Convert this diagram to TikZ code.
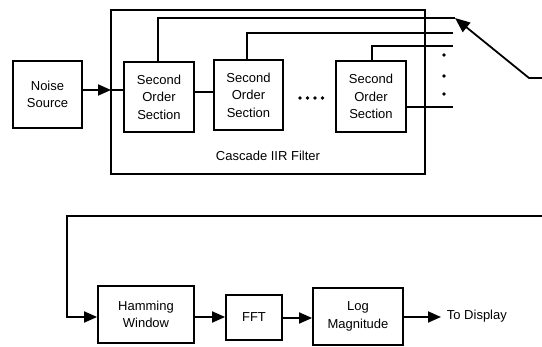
\documentclass[tikz,border=0pt]{standalone}
\usepackage{fontspec}
\setmainfont{Liberation Sans}
\usetikzlibrary{arrows.meta}
\begin{document}
\begin{tikzpicture}[x=1pt,y=-1pt,
  line width=1.8pt,
  font=\fontsize{13}{17.5}\selectfont,
  blk/.style={draw,rectangle,inner sep=0pt,align=center},
  arr/.style={-{Triangle[length=13pt,width=11pt]}},
  bigarr/.style={-{Triangle[length=15pt,width=12pt]}},
  tapdot/.style={circle,fill,inner sep=0pt,minimum size=3.6pt}]
\useasboundingbox (0,0) rectangle (542,347);

% filter stage
\node[blk,minimum width=69pt,minimum height=67pt] (noise) at (47.5,94.5) {Noise\\Source};
\node[draw,rectangle,minimum width=314pt,minimum height=164pt,inner sep=0pt] (casc) at (268,92) {};
\node (casclabel) at (268,156) {Cascade IIR Filter};
\node[blk,minimum width=70pt,minimum height=70pt] (sos1) at (159,97) {Second\\Order\\Section};
\node[blk,minimum width=69pt,minimum height=70pt] (sos2) at (248.5,95) {Second\\Order\\Section};
\node[blk,minimum width=70pt,minimum height=71pt] (sos3) at (371,96.5) {Second\\Order\\Section};
\foreach \i/\x in {1/300,2/307.5,3/315,4/322.5}
  \node[tapdot] (h\i) at (\x,98) {};

% input path
\coordinate (in1) at (111,90);
\draw[arr] (noise.east |- in1) -- (in1);
\draw (in1) -- (sos1.west |- in1);
\coordinate (mid12) at (204,92);
\draw (sos1.east |- mid12) -- (sos2.west |- mid12);

% section taps
\coordinate (t1) at (455,18);
\coordinate (t2) at (453,33);
\coordinate (t3) at (453,46);
\coordinate (t4) at (453,107);
\draw (sos1.north -| 158,0) |- (t1);
\draw (sos2.north -| 247,0) |- (t2);
\draw (sos3.north -| 372,0) |- (t3);
\draw (sos3.east |- t4) -- (t4);
\node[tapdot] (d1) at (444,55) {};
\node[tapdot] (d2) at (444,76) {};
\node[tapdot] (d3) at (444,94) {};

% selector
\coordinate (selin) at (542,78);
\coordinate (selknee) at (529,78);
\draw[bigarr] (selin) -- (selknee) -- (t1);

% analysis stage
\node[blk,minimum width=96pt,minimum height=57pt] (ham) at (146,314.5) {Hamming\\Window};
\node[blk,minimum width=56pt,minimum height=45pt] (fft) at (254,317.5) {FFT};
\node[blk,minimum width=90pt,minimum height=57pt] (logm) at (358,316.5) {Log\\Magnitude};
\coordinate (fbin) at (542,216);
\coordinate (fbcorner) at (67,216);
\coordinate (fbdown) at (67,317);
\draw[arr] (fbin) -- (fbcorner) -- (fbdown) -- (ham.west |- fbdown);
\draw[arr] (ham.east |- 0,317) -- (fft.west |- 0,317);
\draw[arr] (fft.east |- 0,318) -- (logm.west |- 0,318);
\coordinate (outend) at (441,317);
\draw[arr] (logm.east |- outend) -- (outend);
\node[anchor=west,inner sep=0pt] (disp) at (446,316) {To Display};
\end{tikzpicture}
\end{document}
